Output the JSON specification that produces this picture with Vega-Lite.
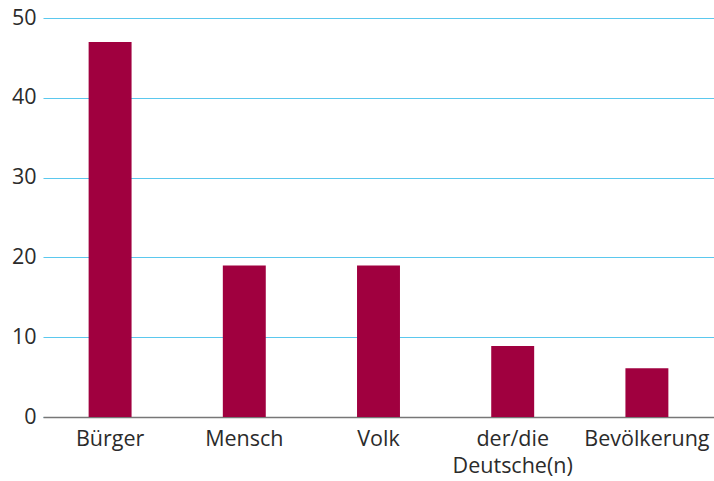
{
  "$schema": "https://vega.github.io/schema/vega-lite/v6.json",
  "width": 671,
  "height": 399,
  "autosize": {"type": "none"},
  "padding": {"left": 43, "top": 18, "right": 0, "bottom": 64},
  "background": "white",
  "config": {"view": {"stroke": null}, "font": "Open Sans"},
  "data": {
    "values": [
      {"begriff": "Bürger", "wert": 47},
      {"begriff": "Mensch", "wert": 19},
      {"begriff": "Volk", "wert": 19},
      {"begriff": "der/die Deutsche(n)", "wert": 8.9},
      {"begriff": "Bevölkerung", "wert": 6.1}
    ]
  },
  "mark": {"type": "bar", "color": "#A0003F"},
  "encoding": {
    "x": {
      "field": "begriff",
      "type": "nominal",
      "sort": null,
      "scale": {"paddingInner": 0.68, "paddingOuter": 0.34},
      "axis": {
        "title": null,
        "labelAngle": 0,
        "labelFontSize": 21.5,
        "labelColor": "#2b2b2b",
        "labelPadding": 11,
        "labelLineHeight": 27,
        "labelExpr": "split(datum.label, ' ')",
        "ticks": false,
        "domainColor": "#777777",
        "domainWidth": 1.5,
        "grid": false
      }
    },
    "y": {
      "field": "wert",
      "type": "quantitative",
      "scale": {"domain": [0, 50], "nice": false},
      "axis": {
        "title": null,
        "values": [0, 10, 20, 30, 40, 50],
        "labelFontSize": 21.5,
        "labelColor": "#2b2b2b",
        "labelPadding": 7,
        "ticks": false,
        "domain": false,
        "grid": true,
        "gridColor": "#5BC8EE",
        "gridWidth": 1.2
      }
    }
  }
}
